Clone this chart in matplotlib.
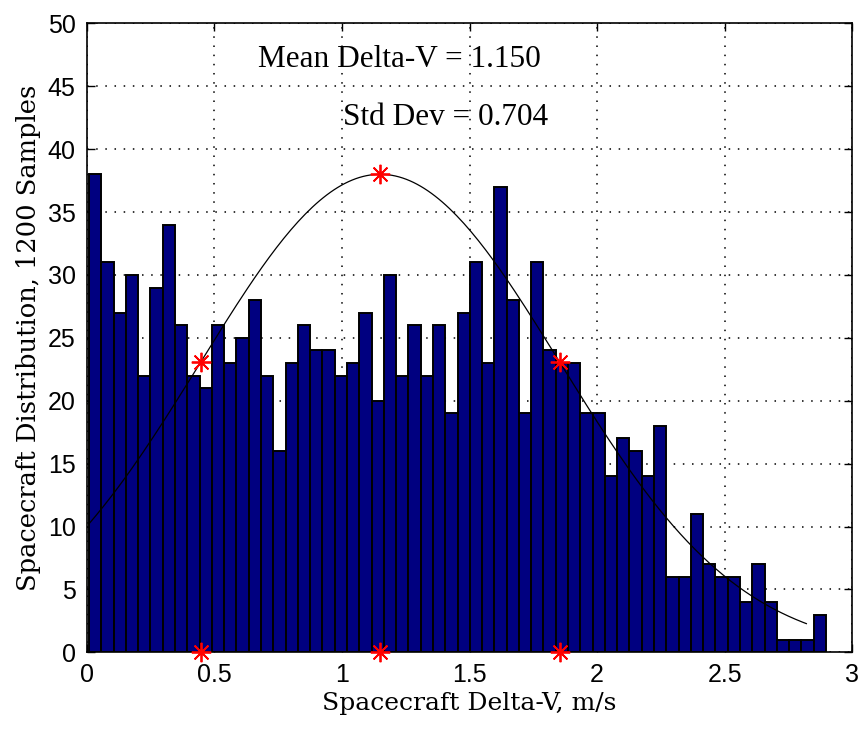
import numpy as np
import matplotlib
matplotlib.use("Agg")
import matplotlib.pyplot as plt

# Histogram of spacecraft delta-V samples (60 bins)
bin_start = 0.009
bin_stop = 2.897
counts = [38, 31, 27, 30, 22, 29, 34, 26, 22, 21,
          26, 23, 25, 28, 22, 16, 23, 26, 24, 24,
          22, 23, 27, 20, 30, 22, 26, 22, 26, 19,
          27, 31, 23, 37, 28, 19, 31, 24, 23, 23,
          19, 19, 14, 17, 16, 14, 18, 6, 6, 11,
          7, 6, 6, 4, 7, 4, 1, 1, 1, 3]

mean_dv = 1.150
std_dv = 0.704
peak = 38
curve_start = 0.009
curve_stop = 2.82

xticks = [0, 0.5, 1, 1.5, 2, 2.5, 3]
yticks = list(range(0, 55, 5))

tick_font = ["Liberation Sans Narrow", "DejaVu Sans Condensed", "Liberation Sans"]
label_font = ["DejaVu Serif"]
text_font = ["Liberation Serif", "DejaVu Serif"]

fig = plt.figure(figsize=(8.61, 7.29), dpi=100)
ax = fig.add_axes([0.1007, 0.1052, 0.8892, 0.8628])

edges = np.linspace(bin_start, bin_stop, len(counts) + 1)
ax.bar(edges[:-1], counts, width=np.diff(edges), align="edge",
       color="#000080", edgecolor="black", linewidth=1.4, zorder=2)

# Scaled normal curve with the stated mean and standard deviation
xc = np.linspace(curve_start, curve_stop, 200)
yc = peak * np.exp(-(xc - mean_dv) ** 2 / (2 * std_dv ** 2))
ax.plot(xc, yc, color="black", linewidth=0.9, zorder=3)

# Markers at the mean and one standard deviation either side
mx = [mean_dv - std_dv, mean_dv, mean_dv + std_dv]
my = [peak * np.exp(-0.5), peak, peak * np.exp(-0.5)]
star = (8, 2, 0)
ax.plot(mx, my, linestyle="none", marker=star, markersize=14,
        markeredgecolor="red", markeredgewidth=1.3, zorder=4, clip_on=False)
ax.plot(mx, [0, 0, 0], linestyle="none", marker=star, markersize=14,
        markeredgecolor="red", markeredgewidth=1.3, zorder=4, clip_on=False)

ax.set_xlim(0, 3)
ax.set_ylim(0, 50)
ax.set_xticks(xticks)
ax.set_yticks(yticks)
ax.set_xticklabels([f"{v:g}" for v in xticks], family=tick_font, fontsize=18)
ax.set_yticklabels([f"{v:g}" for v in yticks], family=tick_font, fontsize=18)
ax.tick_params(direction="in", length=6, width=1, top=True, right=True)
ax.tick_params(axis="x", pad=8)
ax.tick_params(axis="y", pad=8)
ax.grid(True, color="black", linestyle=(0, (1, 5)), linewidth=1.1, zorder=1)
ax.set_axisbelow(True)
for sp in ax.spines.values():
    sp.set_linewidth(1.2)

ax.set_xlabel("Spacecraft Delta-V, m/s", family=label_font, fontsize=18,
              labelpad=3)
ax.set_ylabel("Spacecraft Distribution, 1200 Samples", family=label_font,
              fontsize=18.5, labelpad=5)

ax.text(0.673, 47.1, f"Mean Delta-V = {mean_dv:.3f}", family=text_font,
        fontsize=22.5, ha="left", va="center", zorder=5)
ax.text(1.006, 42.5, f"Std Dev = {std_dv:.3f}", family=text_font,
        fontsize=22.5, ha="left", va="center", zorder=5)

fig.savefig("out.png", dpi=100)
